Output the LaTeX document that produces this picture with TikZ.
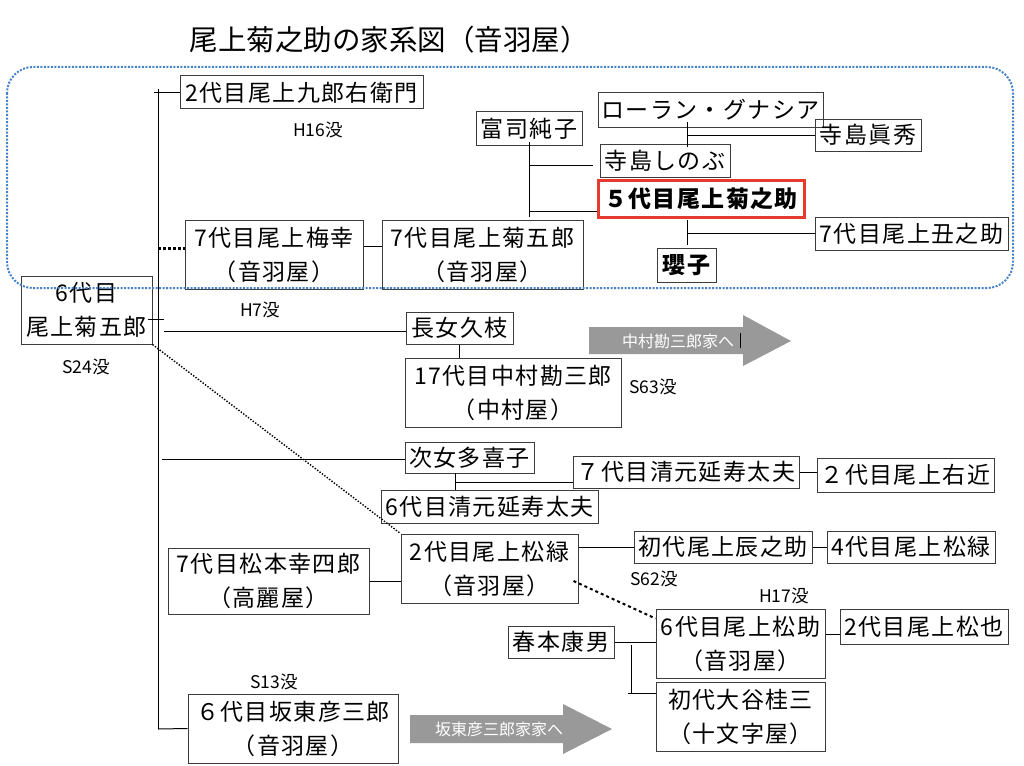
\documentclass[tikz,border=0pt]{standalone}
\usepackage{fontspec}
\setmainfont{Noto Sans CJK JP}
\newfontfamily\jpf{Noto Sans CJK JP}
\newfontfamily\bxf[LetterSpace=6]{Noto Sans CJK JP}
\usetikzlibrary{calc}
\definecolor{bordblue}{RGB}{70,130,200}
\definecolor{kred}{RGB}{228,58,48}
\definecolor{agray}{RGB}{153,153,153}
\definecolor{boxline}{RGB}{60,60,60}
\begin{document}
\begin{tikzpicture}[x=1pt,y=-1pt,
  bxs/.style={draw=boxline, line width=1pt, inner sep=0pt, align=center,
    font=\bxf\fontsize{23}{34}\selectfont},
  con/.style={line width=1pt, black},
  lbl/.style={font=\jpf\fontsize{17.5}{20}\selectfont, inner sep=0pt},
  arrtxt/.style={font=\jpf\fontsize{16}{18}\selectfont, text=white, inner sep=0pt},
  garrow/.style={fill=agray, draw=none}]
\useasboundingbox (0,0) rectangle (1024,765);
\fill[white] (0,0) rectangle (1024,765);

% title
\node[font=\jpf\fontsize{28.5}{32}\selectfont, inner sep=0pt] (title) at (389,40) {尾上菊之助の家系図（音羽屋）};

% boxes
\node[bxs, minimum width=243pt, minimum height=33pt] (kurouemon) at (301.5,92.5) {2代目尾上九郎右衛門};
\node[bxs, minimum width=106pt, minimum height=33pt] (fuji) at (529,128.5) {富司純子};
\node[bxs, minimum width=225pt, minimum height=34pt] (laurent) at (710.5,110) {ローラン・グナシア};
\node[bxs, minimum width=106pt, minimum height=32pt] (maho) at (868,135) {寺島眞秀};
\node[bxs, minimum width=130pt, minimum height=33pt] (shinobu) at (665,160.5) {寺島しのぶ};
\node[bxs, draw=kred, line width=3pt, minimum width=206pt, minimum height=37pt, font=\bxf\bfseries\fontsize{23}{34}\selectfont] (kikunosuke) at (701,198.5) {５代目尾上菊之助};
\node[bxs, minimum width=193pt, minimum height=33pt] (ushinosuke) at (911.5,233.5) {7代目尾上丑之助};
\node[bxs, minimum width=59pt, minimum height=34pt, font=\bxf\bfseries\fontsize{23}{34}\selectfont] (akiko) at (686.5,265) {瓔子};
\node[bxs, minimum width=178pt, minimum height=69pt] (baiko) at (274,254.5) {7代目尾上梅幸\\（音羽屋）};
\node[bxs, minimum width=201pt, minimum height=69pt] (kikugoro7) at (482.5,254.5) {7代目尾上菊五郎\\（音羽屋）};
\node[bxs, minimum width=131pt, minimum height=68pt] (kikugoro6) at (86.5,310) {6代目\\尾上菊五郎};
\node[bxs, minimum width=107pt, minimum height=32pt] (hisae) at (459.5,328) {長女久枝};
\node[bxs, minimum width=216pt, minimum height=69pt] (kanzaburo) at (513,392.5) {17代目中村勘三郎\\（中村屋）};
\node[bxs, minimum width=129pt, minimum height=31pt] (takiko) at (469.5,457.5) {次女多喜子};
\node[bxs, minimum width=226pt, minimum height=32pt] (kiyomoto7) at (686,472) {７代目清元延寿太夫};
\node[bxs, minimum width=177pt, minimum height=34pt] (ukon) at (905.5,475) {２代目尾上右近};
\node[bxs, minimum width=217pt, minimum height=33pt] (kiyomoto6) at (489.5,506.5) {6代目清元延寿太夫};
\node[bxs, minimum width=201pt, minimum height=66pt] (koshiro) at (268.5,581) {7代目松本幸四郎\\（高麗屋）};
\node[bxs, minimum width=177pt, minimum height=69pt] (shoroku2) at (489.5,568.5) {2代目尾上松緑\\（音羽屋）};
\node[bxs, minimum width=178pt, minimum height=32pt] (tatsunosuke) at (723,547) {初代尾上辰之助};
\node[bxs, minimum width=168pt, minimum height=32pt] (shoroku4) at (911,547) {4代目尾上松緑};
\node[bxs, minimum width=169pt, minimum height=69pt] (matsusuke) at (740.5,643.5) {6代目尾上松助\\（音羽屋）};
\node[bxs, minimum width=168pt, minimum height=35pt] (matsuya) at (924,626.5) {2代目尾上松也};
\node[bxs, minimum width=106pt, minimum height=32pt] (harumoto) at (561,642) {春本康男};
\node[bxs, minimum width=169pt, minimum height=69pt] (keizo) at (740.5,716.5) {初代大谷桂三\\（十文字屋）};
\node[bxs, minimum width=210pt, minimum height=69pt] (hikosaburo) at (293,728.5) {６代目坂東彦三郎\\（音羽屋）};

% labels
\node[lbl] (l1) at (318,130) {H16没};
\node[lbl] (l2) at (260,310) {H7没};
\node[lbl] (l3) at (86,367) {S24没};
\node[lbl] (l4) at (653,387) {S63没};
\node[lbl] (l5) at (654,579) {S62没};
\node[lbl] (l6) at (784,596) {H17没};
\node[lbl] (l7) at (274,682) {S13没};

% gray arrows
\fill[garrow] (589,327) -- (743,327) -- (743,315) -- (791,341) -- (743,366) -- (743,354) -- (589,354) -- cycle;
\node[arrtxt] (a1) at (678,341) {中村勘三郎家へ};
\draw[line width=0.8pt] (740,333) -- (740,348);
\fill[garrow] (410,715) -- (563,715) -- (563,704) -- (612,729) -- (563,754) -- (563,743) -- (410,743) -- cycle;
\node[arrtxt] (a2) at (499,729) {坂東彦三郎家家へ};

% trunk and junction coordinates
\coordinate (ttop) at (158,89);
\coordinate (tbot) at (158,729);
\coordinate (t1) at (154,92.5);
\coordinate (t2) at (158,248);
\coordinate (y246) at (0,246);
\coordinate (fj1) at (529,165);
\coordinate (fj2) at (529,211);
\coordinate (fjb) at (529,217);
\coordinate (lx1) at (687,122);
\coordinate (lx2) at (687,147);
\coordinate (lj) at (687,135);
\coordinate (kj1) at (687,220);
\coordinate (kj2) at (687,245);
\coordinate (kj) at (687,233);
\coordinate (tk1) at (148,319);
\coordinate (tk2) at (164,319);
\coordinate (hj) at (164,331);
\coordinate (tj) at (162,459);
\coordinate (dj1) at (455,473);
\coordinate (dj2) at (455,490);
\coordinate (dj) at (455,482);
\coordinate (y634) at (0,634);
\coordinate (hv1) at (631,645);
\coordinate (hv2) at (631,693);
\coordinate (hvl) at (628,693);
\coordinate (bj) at (158,729);

\draw[con] (ttop) -- (tbot);
\draw[con] (t1) -- (kurouemon.west);
\draw[line width=3pt, dash pattern=on 3pt off 2pt] (t2) -- (t2 -| baiko.west);
\draw[con] (baiko.east |- y246) -- (kikugoro7.west |- y246);
\draw[con] ([yshift=4pt]fuji.south) -- (fjb);
\draw[con] (fj1) -- ([xshift=-7pt]fj1 -| shinobu.west);
\draw[con] (fj2) -- (fj2 -| kikunosuke.west);
\draw[con] (lx1) -- (lx2);
\draw[con] (lj) -- (lj -| maho.west);
\draw[con] (kj1) -- (kj2);
\draw[con] (kj) -- (kj -| ushinosuke.west);
\draw[con] (tk1) -- (tk2);
\draw[con] (hj) -- (hj -| hisae.west);
\draw[con] (hisae.south) -- (hisae.south |- kanzaburo.north);
\draw[con] (tj) -- (tj -| takiko.west);
\draw[con] (dj1) -- (dj2);
\draw[con] (dj) -- (dj -| kiyomoto7.west);
\draw[con] (kiyomoto7.east) -- (kiyomoto7.east -| ukon.west);
\draw[line width=1.4pt, dash pattern=on 1.4pt off 1.6pt] (kikugoro6.south east) -- (shoroku2.north west);
\draw[con] (koshiro.east) -- (koshiro.east -| shoroku2.west);
\draw[con] (shoroku2.east |- tatsunosuke.west) -- (tatsunosuke.west);
\draw[con] (tatsunosuke.east) -- (shoroku4.west);
\draw[line width=2pt, dash pattern=on 3pt off 3pt] ($(shoroku2.east)+(-5,12.5)$) -- ($(matsusuke.west)+(0,-25)$);
\draw[con] (matsusuke.east |- y634) -- (matsuya.west |- y634);
\draw[con] (harumoto.east) -- (harumoto.east -| matsusuke.west);
\draw[con] (hv1) -- (hv2);
\draw[con] (hvl) -- (hvl -| keizo.west);
\draw[con] (bj) -- (hikosaburo.west);

% dotted frame
\draw[bordblue, line width=2pt, dash pattern=on 2pt off 1.5pt, rounded corners=26pt] (7,67) rectangle (1013,288);
\end{tikzpicture}
\end{document}
